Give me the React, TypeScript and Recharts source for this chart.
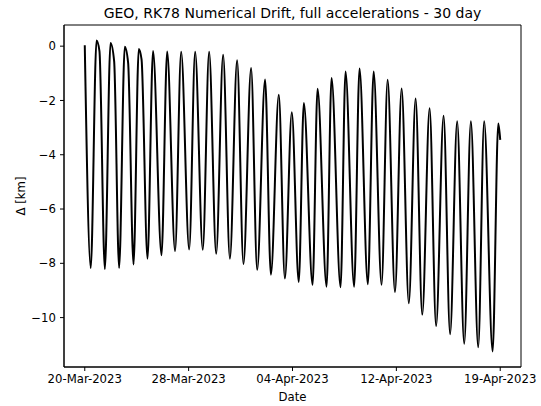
import React from "react";
import { LineChart, Line, XAxis, YAxis, ReferenceArea } from "recharts";

// Time axis: days elapsed since 20-Mar-2023 12:00 UTC
const tickDays = [0, 7.5, 15, 22.5, 30];
const tickLabels = ["20-Mar-2023", "28-Mar-2023", "04-Apr-2023", "12-Apr-2023", "19-Apr-2023"];

// First and last samples of the propagation
const startDay = 0;
const startDelta = 0.03;
const endDay = 30;
const endDelta = -3.45;

// Daily minima of the position difference [km]
const troughDays = [
  0.43, 1.45, 2.48, 3.52, 4.53, 5.54, 6.52, 7.54, 8.52, 9.49,
  10.48, 11.46, 12.45, 13.44, 14.45, 15.45, 16.45, 17.46, 18.47, 19.45,
  20.44, 21.43, 22.4, 23.4, 24.37, 25.37, 26.38, 27.4, 28.41, 29.45,
];
const troughDeltas = [
  -8.18, -8.21, -8.17, -8.04, -7.83, -7.7, -7.55, -7.49, -7.5, -7.65,
  -7.83, -8.03, -8.24, -8.42, -8.56, -8.69, -8.79, -8.86, -8.88, -8.86,
  -8.77, -8.79, -9.06, -9.47, -9.89, -10.31, -10.61, -10.96, -11.09, -11.25,
];

// Daily maxima of the position difference [km]
const peakDays = [
  0.85, 1.86, 2.89, 3.9, 4.93, 5.95, 6.96, 7.97, 8.98, 9.99,
  11.0, 12.01, 13.02, 14.01, 14.95, 15.82, 16.81, 17.82, 18.83, 19.84,
  20.86, 21.87, 22.88, 23.89, 24.9, 25.91, 26.89, 27.88, 28.84, 29.86,
];
const peakDeltas = [
  0.21, 0.12, -0.02, -0.1, -0.18, -0.2, -0.21, -0.21, -0.21, -0.32,
  -0.52, -0.8, -1.23, -1.79, -2.43, -2.09, -1.57, -1.17, -0.93, -0.82,
  -0.93, -1.24, -1.56, -1.93, -2.29, -2.56, -2.77, -2.77, -2.77, -2.85,
];

// Shoulders on the falling side of the first few maxima
const shoulderDays = [1.06, 2.12, 3.13, 4.1];
const shoulderDeltas = [-0.18, -0.55, -0.61, -0.49];

type Row = { t: number; v: number };

const rows: Row[] = [
  { t: startDay, v: startDelta },
  ...troughDays.map((t, i) => ({ t, v: troughDeltas[i] })),
  ...peakDays.map((t, i) => ({ t, v: peakDeltas[i] })),
  ...shoulderDays.map((t, i) => ({ t, v: shoulderDeltas[i] })),
  { t: endDay, v: endDelta },
].sort((a, b) => a.t - b.t);

const yTicks = [0, -2, -4, -6, -8, -10];
const xDomain: [number, number] = [-1.5, 31.5];
const yDomain: [number, number] = [-11.82, 0.78];

const FONT = "DejaVu Sans, sans-serif";
const tickStyle = { fill: "#000", fontSize: 11.7, fontFamily: FONT };

const fmtX = (d: number) => {
  const i = tickDays.indexOf(d);
  return i >= 0 ? tickLabels[i] : "";
};
const fmtY = (v: number) => (v < 0 ? "\u2212" + Math.abs(v) : String(v));

const YLabel = () => (
  <text
    x={21}
    y={196}
    transform="rotate(-90, 21, 196)"
    textAnchor="middle"
    dy="0.35em"
    fill="#000"
    fontSize={11.7}
    fontFamily={FONT}
  >
    Δ [km]
  </text>
);

export default function App() {
  return (
    <div style={{ position: "fixed", left: 0, top: 0, width: 541, height: 406, background: "#fff" }}>
      <LineChart
        width={541}
        height={406}
        data={rows}
        margin={{ top: 25, right: 20, bottom: 0, left: 0 }}
      >
        <XAxis
          type="number"
          dataKey="t"
          domain={xDomain}
          ticks={tickDays}
          tickFormatter={fmtX}
          allowDataOverflow
          height={39}
          tickSize={4}
          tickMargin={4}
          tick={tickStyle}
          stroke="#000"
          axisLine={{ stroke: "#000" }}
          tickLine={{ stroke: "#000" }}
          interval={0}
          label={{ value: "Date", position: "insideBottom", offset: 5, fill: "#000", fontSize: 11.7, fontFamily: FONT }}
        />
        <YAxis
          type="number"
          domain={yDomain}
          ticks={yTicks}
          tickFormatter={fmtY}
          allowDataOverflow
          width={64}
          tickSize={4}
          tickMargin={4}
          tick={tickStyle}
          stroke="#000"
          axisLine={{ stroke: "#000" }}
          tickLine={{ stroke: "#000" }}
          interval={0}
          label={{ content: YLabel }}
        />
        <ReferenceArea
          x1={xDomain[0]}
          x2={xDomain[1]}
          y1={yDomain[0]}
          y2={yDomain[1]}
          fill="none"
          fillOpacity={0}
          stroke="#000"
          strokeWidth={1}
          label={{
            value: "GEO, RK78 Numerical Drift, full accelerations - 30 day",
            position: "top",
            offset: 7,
            fill: "#000",
            fontSize: 14,
            fontFamily: FONT,
          }}
        />
        <Line
          type="monotone"
          dataKey="v"
          stroke="#000"
          strokeWidth={2}
          dot={false}
          isAnimationActive={false}
        />
      </LineChart>
    </div>
  );
}
